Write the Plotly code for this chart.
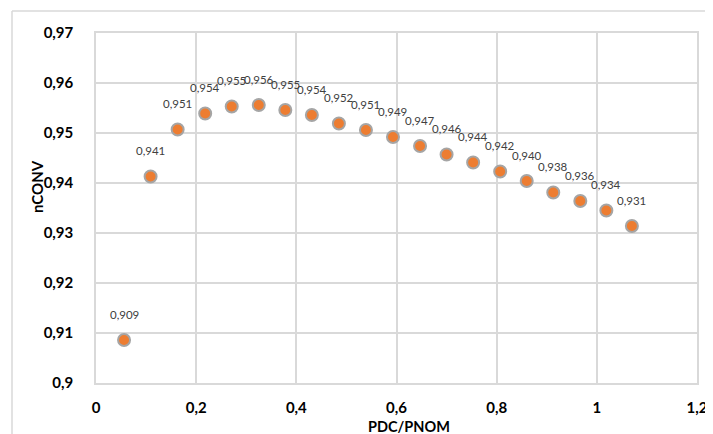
import plotly.graph_objects as go

pdc_pnom = [0.056, 0.109, 0.163, 0.218, 0.271, 0.325, 0.378, 0.431, 0.485, 0.539,
            0.593, 0.647, 0.700, 0.753, 0.807, 0.860, 0.913, 0.967, 1.019, 1.070]
nconv = [0.9086, 0.9413, 0.9507, 0.9539, 0.9553, 0.9556, 0.9546, 0.9536, 0.9519, 0.9506,
         0.9492, 0.9474, 0.9457, 0.9441, 0.9423, 0.9404, 0.9381, 0.9364, 0.9345, 0.9314]
x_ticks = [0, 0.2, 0.4, 0.6, 0.8, 1, 1.2]
y_ticks = [0.90, 0.91, 0.92, 0.93, 0.94, 0.95, 0.96, 0.97]

FONT = "Lato, 'Open Sans', sans-serif"

fig = go.Figure()
fig.add_trace(go.Scatter(
    x=pdc_pnom, y=nconv, mode="markers",
    marker=dict(size=12, color="#ED7D31", line=dict(color="#A5A5A5", width=2)),
    hoverinfo="x+y", showlegend=False,
))

annotations = []
for xv, yv in zip(pdc_pnom, nconv):
    annotations.append(dict(
        x=xv, y=yv, xref="x", yref="y", text=f"{yv:.3f}".replace(".", ","),
        showarrow=False, yshift=26,
        font=dict(family=FONT, size=11.5, color="#404040"),
    ))
annotations.append(dict(
    x=0.5, y=0, xref="paper", yref="paper", xanchor="center", yanchor="middle",
    text="<b>PDC/PNOM</b>", showarrow=False, xshift=12, yshift=-43,
    font=dict(family=FONT, size=14.5, color="#000000"),
))
annotations.append(dict(
    x=0, y=0.5, xref="paper", yref="paper", xanchor="center", yanchor="middle",
    text="<b>nCONV</b>", showarrow=False, textangle=-90, xshift=-59, yshift=21,
    font=dict(family=FONT, size=15, color="#000000"),
))

# page body has an 8px default margin, so the figure is 8px smaller and shifted
fig.update_layout(
    width=705, height=426,
    margin=dict(l=88, r=16, t=25, b=51, autoexpand=False),
    paper_bgcolor="white", plot_bgcolor="white",
    separators=", ",
    annotations=annotations,
    shapes=[
        dict(type="line", xref="paper", yref="paper",
             x0=(12 - 96) / 601, x1=(720 - 96) / 601,
             y0=(383 - 11) / 350, y1=(383 - 11) / 350,
             line=dict(color="#D9D9D9", width=1.5)),
        dict(type="line", xref="paper", yref="paper",
             x0=(12 - 96) / 601, x1=(12 - 96) / 601,
             y0=(383 - 11) / 350, y1=(383 - 440) / 350,
             line=dict(color="#D9D9D9", width=1.5)),
    ],
)
fig.update_xaxes(
    range=[0, 1.2], tickvals=x_ticks, showgrid=True, gridcolor="#D9D9D9", gridwidth=1.5,
    showline=True, mirror=True, linecolor="#D9D9D9", linewidth=1.5, zeroline=False,
    ticks="", ticklabelstandoff=10, automargin=False,
    tickfont=dict(family=FONT, size=15, color="#000000", weight="bold"),
)
fig.update_yaxes(
    range=[0.9, 0.97], tickvals=y_ticks, showgrid=True, gridcolor="#D9D9D9", gridwidth=1.5,
    showline=True, mirror=True, linecolor="#D9D9D9", linewidth=1.5, zeroline=False,
    ticks="", ticklabelstandoff=18, automargin=False,
    tickfont=dict(family=FONT, size=15, color="#000000", weight="bold"),
)

fig.write_html("out.html")
